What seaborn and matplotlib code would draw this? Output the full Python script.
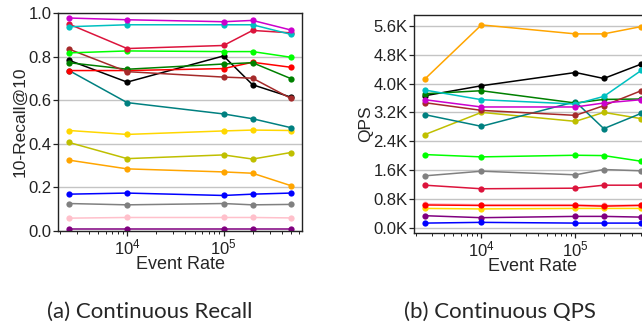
import numpy as np
import pandas as pd
import matplotlib
matplotlib.use("Agg")
import matplotlib.pyplot as plt
import seaborn as sns
from matplotlib.ticker import FuncFormatter

# ---- data ----
event_rates = [2500, 10000, 100000, 200000, 500000]
series_names = ["magenta", "cyan", "crimson", "lime", "brown", "green", "red", "black",
                "teal", "gold", "olive", "orange", "blue", "gray", "pink", "purple"]
series_colors = ["#cc00cc", "#00c0c0", "crimson", "lime", "brown", "green", "red", "black",
                 "teal", "gold", "#bfbf00", "orange", "blue", "gray", "pink", "purple"]

recall_magenta = [0.977, 0.969, 0.960, 0.966, 0.922]
recall_cyan = [0.937, 0.946, 0.946, 0.946, 0.902]
recall_crimson = [0.949, 0.837, 0.851, 0.920, 0.909]
recall_lime = [0.817, 0.826, 0.823, 0.823, 0.797]
recall_brown = [0.834, 0.731, 0.706, 0.701, 0.608]
recall_green = [0.772, 0.742, 0.766, 0.772, 0.699]
recall_red = [0.736, 0.736, 0.745, 0.774, 0.751]
recall_black = [0.783, 0.683, 0.803, 0.671, 0.614]
recall_teal = [0.736, 0.589, 0.537, 0.515, 0.474]
recall_gold = [0.461, 0.443, 0.459, 0.463, 0.461]
recall_olive = [0.406, 0.332, 0.349, 0.330, 0.360]
recall_orange = [0.325, 0.285, 0.271, 0.265, 0.208]
recall_blue = [0.169, 0.174, 0.163, 0.169, 0.174]
recall_gray = [0.126, 0.120, 0.126, 0.120, 0.122]
recall_pink = [0.059, 0.062, 0.062, 0.062, 0.060]
recall_purple = [0.009, 0.009, 0.009, 0.009, 0.009]

qps_magenta = [3552, 3350, 3350, 3460, 3552]
qps_cyan = [3820, 3552, 3432, 3643, 4363]
qps_crimson = [1179, 1080, 1096, 1179, 1179]
qps_lime = [2029, 1965, 2010, 2001, 1844]
qps_brown = [3469, 3256, 3117, 3386, 3801]
qps_green = [3718, 3801, 3460, 3560, 3571]
qps_red = [630, 617, 617, 598, 617]
qps_black = [3662, 3939, 4307, 4141, 4540]
qps_teal = [3137, 2813, 3496, 2749, 3173]
qps_gold = [534, 520, 534, 534, 534]
qps_olive = [2583, 3200, 2951, 3200, 3026]
qps_orange = [4125, 5628, 5379, 5379, 5581]
qps_blue = [127, 147, 127, 127, 127]
qps_gray = [1439, 1567, 1467, 1614, 1578]
qps_pink = [664, 640, 640, 620, 640]
qps_purple = [332, 277, 313, 313, 293]

recall_all = [recall_magenta, recall_cyan, recall_crimson, recall_lime, recall_brown, recall_green,
              recall_red, recall_black, recall_teal, recall_gold, recall_olive, recall_orange,
              recall_blue, recall_gray, recall_pink, recall_purple]
qps_all = [qps_magenta, qps_cyan, qps_crimson, qps_lime, qps_brown, qps_green,
           qps_red, qps_black, qps_teal, qps_gold, qps_olive, qps_orange,
           qps_blue, qps_gray, qps_pink, qps_purple]

rows = []
for name, rv, qv in zip(series_names, recall_all, qps_all):
    for x, r, q in zip(event_rates, rv, qv):
        rows.append({"series": name, "rate": x, "recall": r, "qps": q})
df = pd.DataFrame(rows)
palette = dict(zip(series_names, series_colors))

# ---- style ----
sns.set_style("ticks")
plt.rcParams["font.family"] = ["Liberation Sans", "DejaVu Sans"]
plt.rcParams["axes.edgecolor"] = "#222222"
plt.rcParams["axes.linewidth"] = 1.0
plt.rcParams["xtick.color"] = "#222222"
plt.rcParams["ytick.color"] = "#222222"

fig = plt.figure(figsize=(6.42, 3.28), dpi=100)
ax1 = fig.add_axes([58 / 642, (328 - 231) / 328, 244 / 642, 218 / 328])
ax2 = fig.add_axes([414 / 642, (328 - 233) / 328, 238 / 642, 218 / 328])

for ax, col in [(ax1, "recall"), (ax2, "qps")]:
    sns.lineplot(data=df, x="rate", y=col, hue="series", palette=palette,
                 hue_order=series_names[::-1], marker="o", markersize=4.5,
                 markeredgewidth=0, linewidth=1.1, legend=False, ax=ax)
    ax.set_xscale("log")
    ax.grid(axis="y", color="#c4c4c4", linewidth=1.0)
    ax.grid(axis="x", visible=False)
    ax.set_axisbelow(True)
    ax.tick_params(axis="both", which="major", labelsize=12, length=3.5, width=0.9, pad=1.0)
    ax.tick_params(axis="x", which="minor", length=2, width=0.7)
    ax.set_xlabel("Event Rate", fontsize=13, labelpad=-1)
    for s in ax.spines.values():
        s.set_visible(True)

ax1.set_ylim(0, 1.0)
ax1.set_yticks([0.0, 0.2, 0.4, 0.6, 0.8, 1.0])
ax1.yaxis.set_major_formatter(FuncFormatter(lambda v, p: f"{v:.1f}"))
ax1.set_ylabel("10-Recall@10", fontsize=12.5, labelpad=1)

ax2.set_yticks(np.arange(0, 5601, 800))
ax2.yaxis.set_major_formatter(FuncFormatter(lambda v, p: f"{v/1000:.1f}K"))
ax2.set_ylabel("QPS", fontsize=12.5, labelpad=0)

fig.text(150 / 642, 1 - 312 / 328, "(a) Continuous Recall", ha="center", va="center",
         fontsize=16, family=["Lato", "DejaVu Sans"])
fig.text(500 / 642, 1 - 312 / 328, "(b) Continuous QPS", ha="center", va="center",
         fontsize=16, family=["Lato", "DejaVu Sans"])

fig.savefig("out.png", dpi=100)
